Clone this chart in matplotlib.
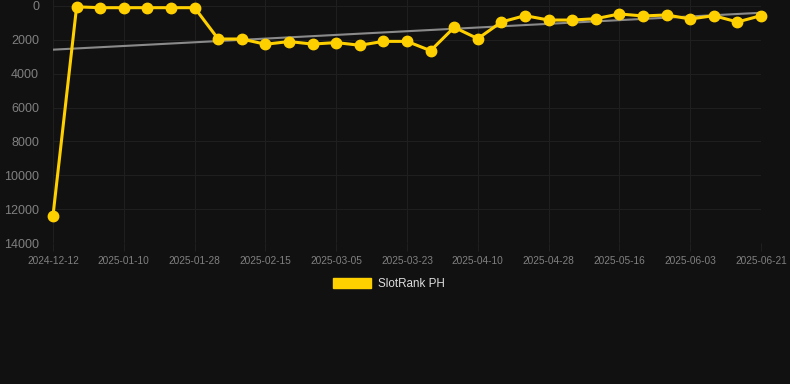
import matplotlib
matplotlib.use('Agg')
import matplotlib.pyplot as plt
from matplotlib.patches import Patch

# datas (eixo de categorias, um rótulo a cada 3 pontos)
dates = ['2024-12-12', '2024-12-29', '2025-01-04', '2025-01-10', '2025-01-16', '2025-01-22',
         '2025-01-28', '2025-02-03', '2025-02-09', '2025-02-15', '2025-02-21', '2025-02-27',
         '2025-03-05', '2025-03-11', '2025-03-17', '2025-03-23', '2025-03-29', '2025-04-04',
         '2025-04-10', '2025-04-16', '2025-04-22', '2025-04-28', '2025-05-04', '2025-05-10',
         '2025-05-16', '2025-05-22', '2025-05-28', '2025-06-03', '2025-06-09', '2025-06-15',
         '2025-06-21']
rank = [12380, 50, 100, 100, 100, 100, 100, 1950, 1950, 2260, 2100, 2250, 2160, 2320, 2090,
        2090, 2640, 1260, 1930, 945, 570, 830, 830, 750, 470, 590, 530, 770, 570, 945, 570]
trend = [2580, 400]  # linha de tendência: início e fim

bg = '#111111'
fig = plt.figure(figsize=(7.9, 3.84), dpi=100, facecolor=bg)
ax = fig.add_axes([53/790, 1 - 243/384, (761 - 53)/790, 243/384])
ax.set_facecolor(bg)

x = list(range(len(dates)))
ax.plot([x[0], x[-1]], trend, color='#8a8a8a', linewidth=1.5, zorder=2)
ax.plot(x, rank, color='#FFD000', linewidth=2.2, marker='o', markersize=7.5, zorder=3, clip_on=False)

ax.set_xlim(0, len(dates) - 1)
ax.set_ylim(14000, -354)
ax.set_yticks(range(0, 14001, 2000))
ax.set_xticks(x[::3])
ax.set_xticklabels(dates[::3])

ax.grid(color='#1f1f1f', linewidth=0.8, zorder=0)
for s in ax.spines.values():
    s.set_visible(False)
ax.tick_params(axis='y', length=0, pad=10, labelsize=9, labelcolor='#808080', labelfontfamily='Liberation Sans')
ax.tick_params(axis='x', length=6, color='#1f1f1f', pad=3, labelsize=7.3, labelcolor='#808080', labelfontfamily='Liberation Sans')

# legenda
handle = Patch(facecolor='#FFD000', edgecolor='#FFD000')
lg = fig.legend([handle], ['SlotRank PH'], loc='center', bbox_to_anchor=(389/790, 1 - 284/384),
                frameon=False, handlelength=3.3, handleheight=1.0, handletextpad=0.6,
                prop={'family': 'Liberation Sans', 'size': 8.4})
for t in lg.get_texts():
    t.set_color('#dddddd')

plt.savefig('out.png', dpi=100, facecolor=bg)
plt.close()
